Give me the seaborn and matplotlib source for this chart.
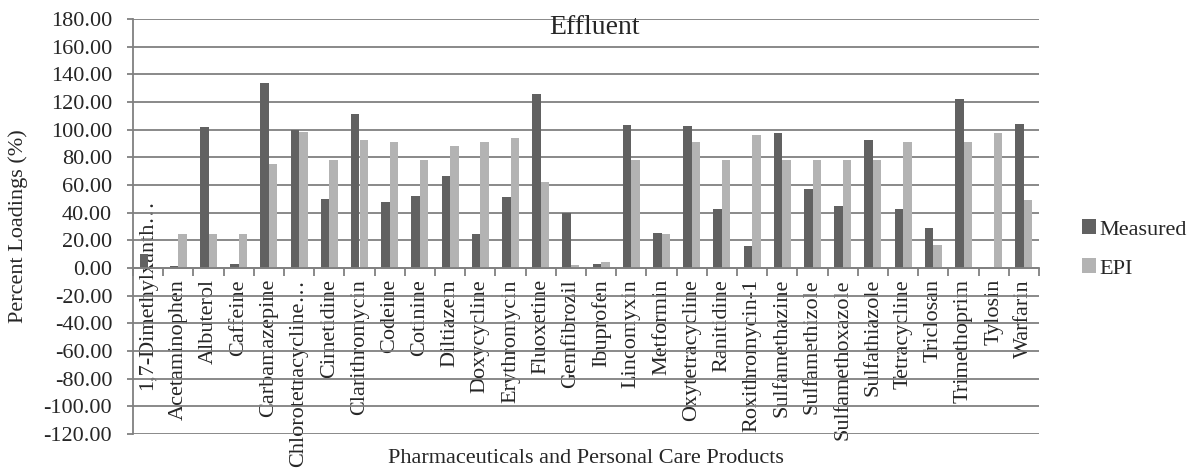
import numpy as np
import pandas as pd
import seaborn as sns
import matplotlib
matplotlib.use("Agg")
import matplotlib.pyplot as plt
import matplotlib.transforms as mtransforms
from matplotlib.ticker import FormatStrFormatter, FixedLocator

# data
compounds = ["1,7-Dimethylxanth…", "Acetaminophen", "Albuterol", "Caffeine",
             "Carbamazepine", "Chlorotetracycline…", "Cimetidine", "Clarithromycin",
             "Codeine", "Cotinine", "Diltiazem", "Doxycycline", "Erythromycin",
             "Fluoxetine", "Gemfibrozil", "Ibuprofen", "Lincomyxin", "Metformin",
             "Oxytetracycline", "Ranitidine", "Roxithromycin-1", "Sulfamethazine",
             "Sulfamethizole", "Sulfamethoxazole", "Sulfathiazole", "Tetracycline",
             "Triclosan", "Trimethoprim", "Tylosin", "Warfarin"]
measured = [10.0, 1.7, 102.0, 3.0, 133.4, 100.0, 50.2, 111.5, 47.4, 52.2,
            66.8, 24.8, 51.4, 125.5, 39.4, 2.9, 103.4, 25.2, 102.6, 42.5,
            15.6, 97.4, 57.2, 44.5, 92.8, 43.0, 28.8, 122.0, 0.0, 104.0]
epi = [0.0, 24.8, 24.8, 24.8, 75.2, 98.0, 77.9, 92.5, 91.1, 77.9,
       88.2, 91.1, 93.8, 62.0, 2.4, 4.6, 77.9, 24.8, 91.1, 77.9,
       95.9, 77.9, 77.9, 77.9, 77.9, 91.1, 16.8, 91.1, 97.8, 49.3]
series_names = ["Measured", "EPI"]
y_ticks = list(range(-120, 181, 20))

df = pd.DataFrame({
    "compound": compounds * 2,
    "series": [series_names[0]] * len(compounds) + [series_names[1]] * len(compounds),
    "value": measured + epi,
})

sns.set_style("white")
plt.rcParams["font.family"] = ["Liberation Serif", "DejaVu Serif"]
grid_col = "#808080"

fig = plt.figure(figsize=(11.98, 4.69), dpi=100)
ax = fig.add_axes([133 / 1198, 1 - 434 / 469, (1039 - 133) / 1198, (434 - 19) / 469])

sns.barplot(data=df, x="compound", y="value", hue="series", order=compounds,
            hue_order=series_names, palette=["#616161", "#b3b3b3"],
            width=0.56, errorbar=None, linewidth=0, ax=ax)

n = len(compounds)
ax.set_xlim(-0.5, n - 0.5)
ax.set_ylim(-120, 180)
ax.set_yticks(y_ticks)
ax.yaxis.set_major_formatter(FormatStrFormatter("%.2f"))
ax.yaxis.grid(True, color=grid_col, linewidth=1.3)
ax.set_axisbelow(True)

for s in ["top", "right"]:
    ax.spines[s].set_visible(False)
ax.spines["left"].set_color(grid_col)
ax.spines["left"].set_linewidth(1.3)
ax.spines["bottom"].set_position(("data", 0))
ax.spines["bottom"].set_color(grid_col)
ax.spines["bottom"].set_linewidth(1.3)

ax.tick_params(axis="y", direction="out", length=4, color=grid_col, width=1.3,
               labelsize=16, pad=11, left=True)
ax.set_xticks(range(n))
ax.set_xticklabels(compounds, rotation=90, va="top", ha="center", fontsize=16)
ax.tick_params(axis="x", which="major", length=0, pad=8)
ax.xaxis.set_minor_locator(FixedLocator(np.arange(-0.5, n, 1.0)))
ax.tick_params(axis="x", which="minor", direction="out", length=6, color=grid_col,
               width=1.3, bottom=True)

# first label sits higher, like in the original
first = ax.get_xticklabels()[0]
first.set_transform(first.get_transform() +
                    mtransforms.ScaledTranslation(0, 80 / 100, fig.dpi_scale_trans))

ax.set_xlabel("Pharmaceuticals and Personal Care Products", fontsize=16, va="center")
ax.xaxis.set_label_coords(0.5, -0.058)
ax.set_ylabel("Percent Loadings (%)", fontsize=16, va="center")
ax.yaxis.set_label_coords(-0.127, 0.5)

fig.text(594 / 1198, 1 - 27 / 469, "Effluent", fontsize=20, ha="center", va="center")

handles, labels = ax.get_legend_handles_labels()
ax.legend(handles, labels, loc="center left", bbox_to_anchor=(1062 / 1198, 1 - 249 / 469),
          bbox_transform=fig.transFigure, frameon=False, fontsize=16,
          handlelength=0.65, handleheight=0.65, handletextpad=0.15, labelspacing=0.85)

fig.savefig("out.png", dpi=100)
